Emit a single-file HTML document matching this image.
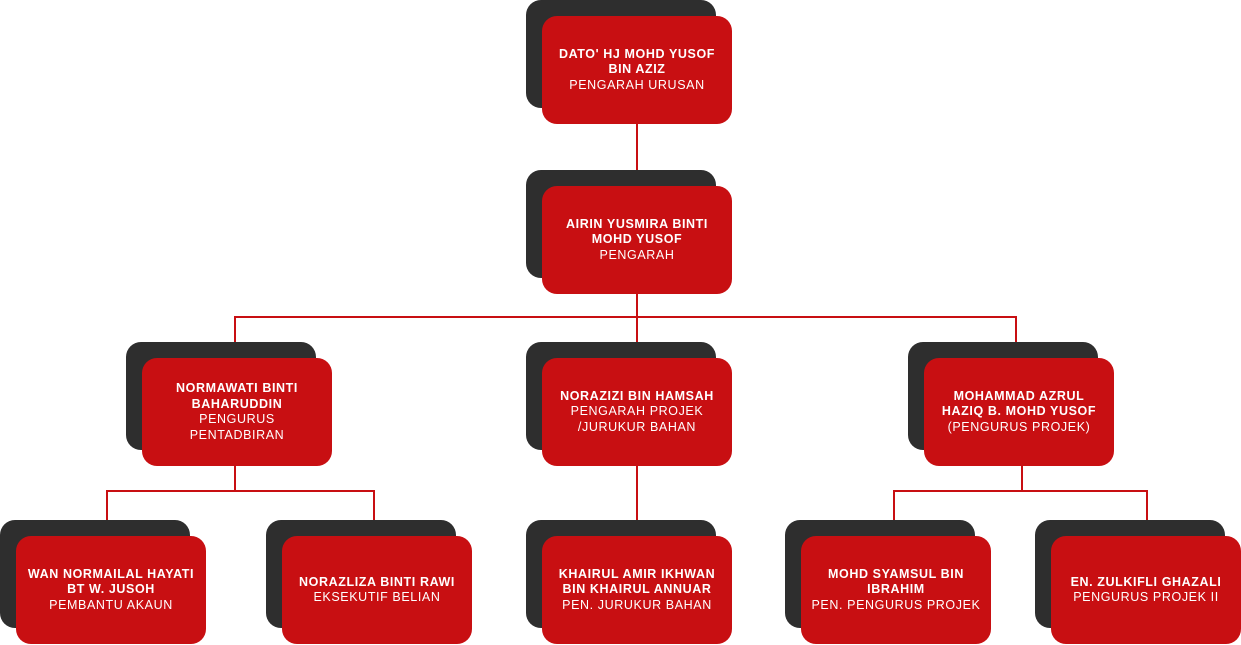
<!DOCTYPE html>
<html><head><meta charset="utf-8"><style>
body{margin:0;width:1241px;height:645px;background:#fff;position:relative;overflow:hidden;font-family:"Liberation Sans",sans-serif}
.d{position:absolute;width:190px;height:108px;background:#2e2e2e;border-radius:15px}
.r{position:absolute;width:190px;height:108px;background:#c80f12;border-radius:15px;color:#fff;display:flex;flex-direction:column;justify-content:center;align-items:center;text-align:center;font-size:12.5px;line-height:15.5px;letter-spacing:0.6px;box-sizing:border-box;padding:0 6px}
.r b{font-weight:bold}
.l{position:absolute;background:#c80f12}
</style></head><body>
<div class="l" style="left:636px;top:120px;width:2px;height:60px"></div>
<div class="l" style="left:234px;top:316px;width:783px;height:2px"></div>
<div class="l" style="left:234px;top:316px;width:2px;height:30px"></div>
<div class="l" style="left:636px;top:290px;width:2px;height:56px"></div>
<div class="l" style="left:1015px;top:316px;width:2px;height:30px"></div>
<div class="l" style="left:234px;top:460px;width:2px;height:32px"></div>
<div class="l" style="left:106px;top:490px;width:269px;height:2px"></div>
<div class="l" style="left:106px;top:490px;width:2px;height:34px"></div>
<div class="l" style="left:373px;top:490px;width:2px;height:34px"></div>
<div class="l" style="left:636px;top:460px;width:2px;height:66px"></div>
<div class="l" style="left:1021px;top:460px;width:2px;height:32px"></div>
<div class="l" style="left:893px;top:490px;width:255px;height:2px"></div>
<div class="l" style="left:893px;top:490px;width:2px;height:34px"></div>
<div class="l" style="left:1146px;top:490px;width:2px;height:34px"></div>

<div class="d" style="left:526px;top:0px"></div>
<div class="r" style="left:542px;top:16px"><b>DATO' HJ MOHD YUSOF<br>BIN AZIZ</b>PENGARAH URUSAN</div>

<div class="d" style="left:526px;top:170px"></div>
<div class="r" style="left:542px;top:186px"><b>AIRIN YUSMIRA BINTI<br>MOHD YUSOF</b>PENGARAH</div>

<div class="d" style="left:126px;top:342px"></div>
<div class="r" style="left:142px;top:358px"><b>NORMAWATI BINTI<br>BAHARUDDIN</b>PENGURUS<br>PENTADBIRAN</div>

<div class="d" style="left:526px;top:342px"></div>
<div class="r" style="left:542px;top:358px"><b>NORAZIZI BIN HAMSAH</b>PENGARAH PROJEK<br>/JURUKUR BAHAN</div>

<div class="d" style="left:908px;top:342px"></div>
<div class="r" style="left:924px;top:358px"><b>MOHAMMAD AZRUL<br>HAZIQ B. MOHD YUSOF</b>(PENGURUS PROJEK)</div>

<div class="d" style="left:0px;top:520px"></div>
<div class="r" style="left:16px;top:536px"><b>WAN NORMAILAL HAYATI<br>BT W. JUSOH</b>PEMBANTU AKAUN</div>

<div class="d" style="left:266px;top:520px"></div>
<div class="r" style="left:282px;top:536px"><b>NORAZLIZA BINTI RAWI</b>EKSEKUTIF BELIAN</div>

<div class="d" style="left:526px;top:520px"></div>
<div class="r" style="left:542px;top:536px"><b>KHAIRUL AMIR IKHWAN<br>BIN KHAIRUL ANNUAR</b>PEN. JURUKUR BAHAN</div>

<div class="d" style="left:785px;top:520px"></div>
<div class="r" style="left:801px;top:536px"><b>MOHD SYAMSUL BIN<br>IBRAHIM</b>PEN. PENGURUS PROJEK</div>

<div class="d" style="left:1035px;top:520px"></div>
<div class="r" style="left:1051px;top:536px"><b>EN. ZULKIFLI GHAZALI</b>PENGURUS PROJEK II</div>
</body></html>
